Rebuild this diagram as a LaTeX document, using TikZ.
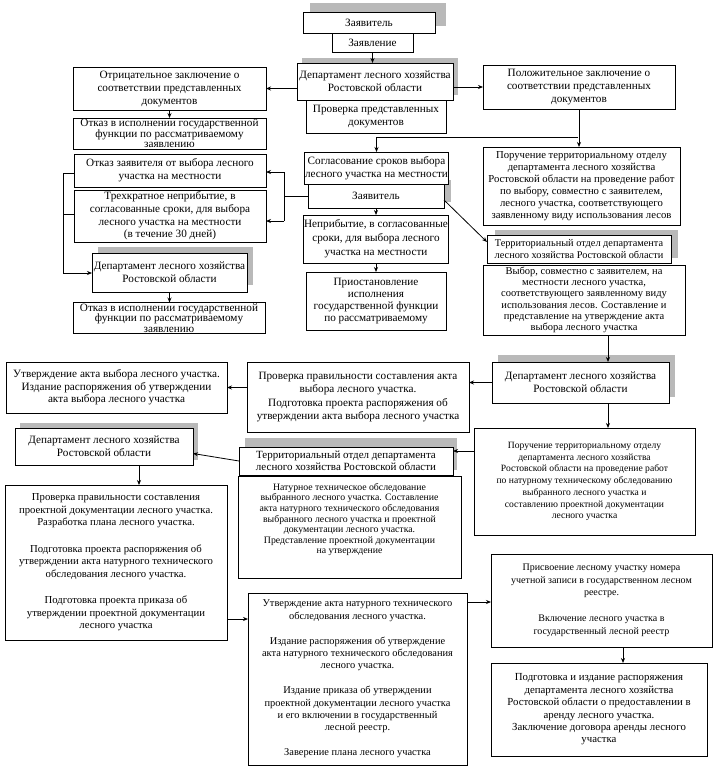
\documentclass[tikz,border=0pt]{standalone}
\usepackage{fontspec}
\setmainfont{Liberation Serif}
\usetikzlibrary{arrows.meta}
\newcommand\mkbox[7][]{\node[box,minimum width={(#5-#3)*1pt},minimum height={(#6-#4)*1pt},#1] (#2) at ({(#3+#5)/2},{(#4+#6)/2}) {#7};}
\newcommand\shd[4]{\fill[shadowc] (#1,#2) rectangle (#3,#4);}
\definecolor{shadowc}{RGB}{185,185,185}
\tikzset{
  fs/.style n args={2}{font={\fontsize{#1}{#2}\selectfont}},
  box/.style={draw, fill=white, line width=0.95pt, inner sep=1pt, outer sep=0pt, align=center, fs={11.2}{13}},
  conn/.style={line width=0.8pt},
  arr/.style={conn, -{Stealth[length=5pt,width=4pt]}}
}
\begin{document}
\begin{tikzpicture}[x=1pt,y=-1pt]
\useasboundingbox (0,0) rectangle (718,779);
% shadows
\shd{310}{3}{446}{26}
\shd{302}{58}{458}{95}
\shd{313}{180}{451}{202}
\shd{98}{247}{253}{285}
\shd{495}{230}{678}{258}
\shd{498}{355}{675}{397}
\shd{245}{438}{457}{470}
\shd{20}{423}{198}{460}
% boxes
\mkbox{zayav1}{303}{12}{435}{33}{Заявитель}
\mkbox{zayavl}{332}{33}{413}{52}{Заявление}
\mkbox{dep1}{297}{63}{453}{100}{Департамент лесного хозяйства\\Ростовской области}
\mkbox{prov1}{306}{100}{446}{133}{Проверка представленных\\документов}
\mkbox{otric}{73}{67}{266}{110}{Отрицательное заключение о\\соответствии представленных\\документов}
\mkbox[fs={11.2}{10.6}]{otkaz1}{73}{118}{266}{149}{Отказ в исполнении государственной\\функции по рассматриваемому\\заявлению}
\mkbox[fs={11.2}{13.3}]{polozh}{483}{65}{675}{109}{Положительное заключение о\\соответствии представленных\\документов}
\mkbox[fs={10.7}{12}]{poruch1}{483}{147}{680}{225}{Поручение территориальному отделу\\департамента лесного хозяйства\\Ростовской области на проведение работ\\по выбору, совместно с заявителем,\\лесного участка, соответствующего\\заявленному виду использования лесов}
\mkbox{soglas}{307}{152}{446}{184}{Согласование сроков выбора\\лесного участка на местности}
\mkbox{zayav2}{308}{184}{444}{208}{Заявитель}
\mkbox[fs={11.2}{14}]{nepr}{306}{215}{446}{263}{Неприбытие, в согласованные\\сроки, для выбора лесного\\участка на местности}
\mkbox[fs={11.2}{11.8}]{priost}{306}{272}{446}{330}{Приостановление\\исполнения\\государственной функции\\по рассматриваемому}
\mkbox{otkzay}{74}{154}{266}{187}{Отказ заявителя от выбора лесного\\участка на местности}
\mkbox[fs={11.2}{12.7}]{trehkr}{74}{190}{266}{242}{Трехкратное неприбытие, в\\согласованные сроки, для выбора\\лесного участка на местности\\(в течение 30 дней)}
\mkbox{dep2}{92}{253}{247}{292}{Департамент лесного хозяйства\\Ростовской области}
\mkbox[fs={11.2}{10.6}]{otkaz2}{73}{303}{265}{333}{Отказ в исполнении государственной\\функции по рассматриваемому\\заявлению}
\mkbox[fs={10.3}{12}]{terr1}{487}{235}{671}{263}{Территориальный отдел департамента\\лесного хозяйства Ростовской области}
\mkbox[fs={10.5}{11.3}]{vybor}{483}{265}{685}{335}{Выбор, совместно с заявителем, на\\местности лесного участка,\\соответствующего заявленному виду\\использования лесов. Составление и\\представление на утверждение акта\\выбора лесного участка}
\mkbox{dep3}{492}{362}{669}{403}{Департамент лесного хозяйства\\Ростовской области}
\mkbox[fs={11.2}{13.3}]{provakt}{247}{362}{469}{432}{Проверка правильности составления акта\\выбора лесного участка.\\Подготовка проекта распоряжения об\\утверждении акта выбора лесного участка}
\mkbox[fs={11.2}{12.5}]{utvakt}{6}{362}{227}{413}{Утверждение акта выбора лесного участка.\\Издание распоряжения об утверждении\\акта выбора лесного участка}
\mkbox[fs={9.6}{11.7}]{poruch2}{474}{428}{695}{535}{Поручение территориальному отделу\\департамента лесного хозяйства\\Ростовской области на проведение работ\\по натурному техническому обследованию\\выбранного лесного участка и\\составлению проектной документации\\лесного участка}
\mkbox[fs={11}{12}]{terr2}{239}{447}{453}{475}{Территориальный отдел департамента\\лесного хозяйства Ростовской области}
\mkbox{dep4}{15}{428}{193}{465}{Департамент лесного хозяйства\\Ростовской области}
\mkbox[fs={9.8}{10.6}]{natur}{238}{476}{461}{578}{Натурное техническое обследование\\выбранного лесного участка. Составление\\акта натурного технического обследования\\выбранного лесного участка и проектной\\документации лесного участка.\\Представление проектной документации\\на утверждение\\[3pt]\strut}
\mkbox[fs={10.7}{12.5}]{provpr}{5}{485}{227}{640}{Проверка правильности составления\\проектной документации лесного участка.\\Разработка плана лесного участка.\\[14pt]Подготовка проекта распоряжения об\\утверждении акта натурного технического\\обследования лесного участка.\\[14pt]Подготовка проекта приказа об\\утверждении проектной документации\\лесного участка}
\mkbox[fs={10.4}{12.3}]{utvnat}{248}{593}{467}{765}{Утверждение акта натурного технического\\обследования лесного участка.\\[12.7pt]Издание распоряжения об утверждение\\акта натурного технического обследования\\лесного участка.\\[12.7pt]Издание приказа об утверждении\\проектной документации лесного участка\\и его включении в государственный\\лесной реестр.\\[12.7pt]Заверение плана лесного участка}
\mkbox[fs={10}{12.5}]{prisv}{491}{554}{712}{647}{Присвоение лесному участку номера\\учетной записи в государственном лесном\\реестре.\\[13.5pt]Включение лесного участка в\\государственный лесной реестр}
\mkbox[fs={10.8}{12.4}]{podg}{491}{663}{707}{756}{Подготовка и издание распоряжения\\департамента лесного хозяйства\\Ростовской области о предоставлении в\\аренду лесного участка.\\Заключение договора аренды лесного\\участка}
% helper coordinates
\coordinate (cbr) at (578,137);
\coordinate (rb1) at (284,172);
\coordinate (rb2) at (284,221);
\coordinate (lb1) at (63,173);
\coordinate (lb2) at (63,214);
\coordinate (lb3) at (63,273);
\coordinate (cv1) at (608,0);
\coordinate (cv2) at (139,0);
\coordinate (cv3) at (623,0);
\coordinate (ch1) at (0,451);
\coordinate (ch2) at (0,619);
\coordinate (ch3) at (0,602);
% connectors
\draw[arr] (zayavl.south) -- (zayavl.south |- dep1.north);
\draw[arr] (otric.east -| dep1.west) -- (otric.east);
\draw[arr] (polozh.west -| dep1.east) -- (polozh.west);
\draw[arr] (otric.south) -- (otkaz1.north);
\draw[arr] (polozh.south) -- (polozh.south |- poruch1.north);
\draw[arr] (cbr) -| (soglas.north);
\draw[conn] (zayav2.west) -- (zayav2.west -| rb1);
\draw[conn] (rb1) -- (rb2);
\draw[arr] (rb1) -- (rb1 -| otkzay.east);
\draw[arr] (rb2) -- (rb2 -| trehkr.east);
\draw[conn] (lb1 -| otkzay.west) -- (lb1) -- (lb3);
\draw[conn] (lb2 -| trehkr.west) -- (lb2);
\draw[arr] (lb3) -- (lb3 -| dep2.west);
\draw[arr] (dep2.south) -- (dep2.south |- otkaz2.north);
\draw[arr] (zayav2.south) -- (zayav2.south |- nepr.north);
\draw[arr] (nepr.south) -- (nepr.south |- priost.north);
\draw[arr] ([yshift=-4pt]zayav2.east) -- ([yshift=7pt]terr1.west);
\draw[arr] (vybor.south -| cv1) -- (dep3.north -| cv1);
\draw[arr] (dep3.west) -- (dep3.west -| provakt.east);
\draw[arr] (utvakt.east -| provakt.west) -- (utvakt.east);
\draw[arr] (dep3.south -| cv1) -- (poruch2.north -| cv1);
\draw[arr] (poruch2.west |- ch1) -- (terr2.east |- ch1);
\draw[arr] (terr2.west) -- ([yshift=-7pt]dep4.east);
\draw[arr] (dep4.south -| cv2) -- (provpr.north -| cv2);
\draw[arr] (provpr.east |- ch2) -- (utvnat.west |- ch2);
\draw[arr] (utvnat.east |- ch3) -- (prisv.west |- ch3);
\draw[arr] (prisv.south -| cv3) -- (podg.north -| cv3);
\end{tikzpicture}
\end{document}
